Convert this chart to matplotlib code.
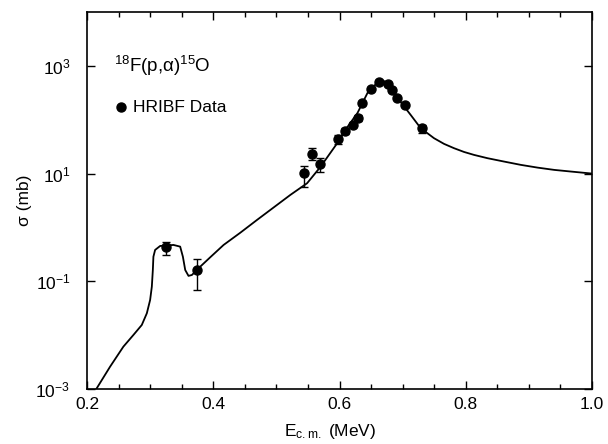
import matplotlib
matplotlib.use("Agg")
import matplotlib.pyplot as plt
import numpy as np
from matplotlib.ticker import FixedLocator, MultipleLocator

plt.rcParams['font.family'] = ['Liberation Sans', 'DejaVu Sans']
plt.rcParams['mathtext.fontset'] = 'custom'
plt.rcParams['mathtext.rm'] = 'Liberation Sans'
plt.rcParams['mathtext.it'] = 'Liberation Sans:italic'
plt.rcParams['mathtext.default'] = 'regular'

# R-matrix curve: E_cm (MeV), sigma (mb)
curve_E = [0.212, 0.2154, 0.2365, 0.2576, 0.2735, 0.2868, 0.2948, 0.300, 0.3027,
           0.3043, 0.3052, 0.3079, 0.3159, 0.3370, 0.3476, 0.3519, 0.3556, 0.3608,
           0.3662, 0.3794, 0.3952, 0.4164, 0.443, 0.4694, 0.5222, 0.5487, 0.5698,
           0.5968, 0.6127, 0.6286, 0.6444, 0.652, 0.6603, 0.6698, 0.676, 0.6810,
           0.6968, 0.7127, 0.7286, 0.7497, 0.7656, 0.7814, 0.7973, 0.8132, 0.8344,
           0.8608, 0.8873, 0.9138, 0.9402, 0.9667, 1.0]
curve_sigma = [8.9e-4, 1.03e-3, 2.59e-3, 6.11e-3, 1.007e-2, 1.545e-2, 2.55e-2, 4.50e-2, 7.94e-2,
               0.162, 0.286, 0.382, 0.453, 0.473, 0.440, 0.286, 0.162, 0.126,
               0.131, 0.187, 0.279, 0.473, 0.80, 1.38, 4.02, 6.62, 13.3,
               37.2, 73.6, 134, 315, 400, 483, 526, 480, 407,
               214, 123, 69.7, 45.4, 35.6, 29.6, 25.2, 22.2, 19.3,
               16.7, 14.5, 12.9, 11.7, 10.9, 10.0]

# HRIBF data points
data_E = [0.3254, 0.374, 0.5433, 0.5571, 0.5698, 0.5973, 0.6095, 0.6217, 0.629,
          0.6354, 0.6492, 0.663, 0.6767, 0.6837, 0.6905, 0.7032, 0.7306]
data_sigma = [0.435, 0.162, 10.2, 23.2, 15.1, 43.5, 62.8, 80.2, 107,
              203, 374, 505, 464, 358, 255, 189, 69.7]
data_lo = [0.308, 0.069, 5.73, 17.9, 10.7, 35.6, 55.3, 72.0, 95,
           185, 349, 471, 433, 334, 238, 176, 56.9]
data_hi = [0.545, 0.256, 14.1, 30.3, 19.8, 52.2, 71.4, 89.0, 120,
           222, 401, 541, 497, 384, 273, 203, 80.2]

x_ticks = [0.2, 0.4, 0.6, 0.8, 1.0]
x_tick_labels = ['0.2', '0.4', '0.6', '0.8', '1.0']
y_ticks = [1e-3, 1e-1, 1e1, 1e3]
y_tick_labels = [r'$10^{-3}$', r'$10^{-1}$', r'$10^{1}$', r'$10^{3}$']

fig = plt.figure(figsize=(6.08, 4.44), dpi=100)
ax = fig.add_axes([87/608, 1-389/444, (592-87)/608, (389-12)/444])

ax.plot(curve_E, curve_sigma, color='black', lw=1.3, zorder=2,
        solid_joinstyle='round')

ds = np.array(data_sigma)
yerr = [ds - np.array(data_lo), np.array(data_hi) - ds]
ax.errorbar(data_E, data_sigma, yerr=yerr, fmt='o', color='black', ms=6.5,
            elinewidth=1.0, capsize=3, capthick=1.0, zorder=3)

ax.set_yscale('log')
ax.set_xlim(0.2, 1.0)
ax.set_ylim(1e-3, 1e4)

ax.xaxis.set_major_locator(FixedLocator(x_ticks))
ax.set_xticklabels(x_tick_labels)
ax.xaxis.set_minor_locator(MultipleLocator(0.05))
ax.yaxis.set_major_locator(FixedLocator(y_ticks))
ax.set_yticklabels(y_tick_labels)
ax.yaxis.set_minor_locator(FixedLocator([]))

ax.tick_params(which='both', direction='in', top=True, right=True, width=1.0)
ax.tick_params(which='major', length=6)
ax.tick_params(which='minor', length=3.5)
ax.tick_params(axis='x', which='major', labelsize=12.5, pad=6)
ax.tick_params(axis='y', which='major', labelsize=12.5, pad=12)
for s in ax.spines.values():
    s.set_linewidth(1.2)

fig.text(24/608, 1-200/444, 'σ (mb)', rotation=90, ha='center', va='center', fontsize=12.5)
fig.text(330/608, 1-431/444, r'E$_{\rm c.m.}$ (MeV)', ha='center', va='center', fontsize=12.5)

ax.text(0.053, 0.857, r'$^{18}$F(p,α)$^{15}$O', transform=ax.transAxes,
        ha='left', va='center', fontsize=13.5)
ax.plot([0.067], [0.748], 'o', color='black', ms=6.5, transform=ax.transAxes)
ax.text(0.091, 0.748, 'HRIBF Data', transform=ax.transAxes,
        ha='left', va='center', fontsize=12.5)

fig.savefig('out.png', dpi=100)
